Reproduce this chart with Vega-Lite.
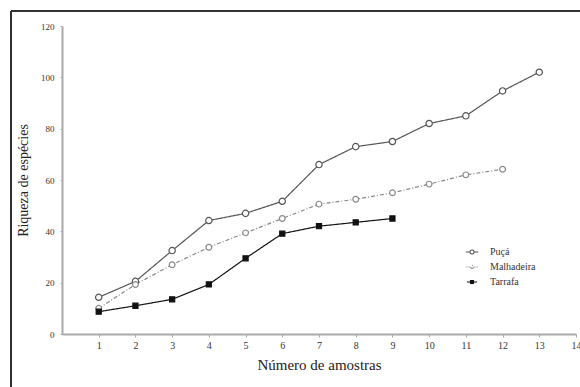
{
  "$schema": "https://vega.github.io/schema/vega-lite/v6.json",
  "width": 514,
  "height": 308,
  "autosize": {"type": "none"},
  "padding": {"left": 62, "top": 26, "right": 4, "bottom": 53},
  "background": "white",
  "config": {
    "view": {"stroke": null},
    "font": "Liberation Serif",
    "axis": {
      "labelFont": "Liberation Serif",
      "titleFont": "Liberation Serif",
      "titleFontWeight": "normal",
      "labelColor": "#333",
      "titleColor": "#222",
      "domainColor": "#aaa",
      "domainWidth": 2,
      "tickColor": "#aaa",
      "grid": false,
      "labelFlush": false,
      "labelOverlap": false
    },
    "legend": {
      "labelFont": "Liberation Serif",
      "labelColor": "#333"
    }
  },
  "data": {
    "values": [
      {"amostras": 1, "riqueza": 14.3, "serie": "Puçá"},
      {"amostras": 2, "riqueza": 20.5, "serie": "Puçá"},
      {"amostras": 3, "riqueza": 32.5, "serie": "Puçá"},
      {"amostras": 4, "riqueza": 44.2, "serie": "Puçá"},
      {"amostras": 5, "riqueza": 47, "serie": "Puçá"},
      {"amostras": 6, "riqueza": 51.7, "serie": "Puçá"},
      {"amostras": 7, "riqueza": 66, "serie": "Puçá"},
      {"amostras": 8, "riqueza": 73, "serie": "Puçá"},
      {"amostras": 9, "riqueza": 75, "serie": "Puçá"},
      {"amostras": 10, "riqueza": 82, "serie": "Puçá"},
      {"amostras": 11, "riqueza": 85, "serie": "Puçá"},
      {"amostras": 12, "riqueza": 94.7, "serie": "Puçá"},
      {"amostras": 13, "riqueza": 102, "serie": "Puçá"},
      {"amostras": 1, "riqueza": 10, "serie": "Malhadeira"},
      {"amostras": 2, "riqueza": 19.3, "serie": "Malhadeira"},
      {"amostras": 3, "riqueza": 27, "serie": "Malhadeira"},
      {"amostras": 4, "riqueza": 33.8, "serie": "Malhadeira"},
      {"amostras": 5, "riqueza": 39.4, "serie": "Malhadeira"},
      {"amostras": 6, "riqueza": 45, "serie": "Malhadeira"},
      {"amostras": 7, "riqueza": 50.6, "serie": "Malhadeira"},
      {"amostras": 8, "riqueza": 52.5, "serie": "Malhadeira"},
      {"amostras": 9, "riqueza": 55, "serie": "Malhadeira"},
      {"amostras": 10, "riqueza": 58.4, "serie": "Malhadeira"},
      {"amostras": 11, "riqueza": 62, "serie": "Malhadeira"},
      {"amostras": 12, "riqueza": 64.2, "serie": "Malhadeira"},
      {"amostras": 1, "riqueza": 8.7, "serie": "Tarrafa"},
      {"amostras": 2, "riqueza": 11, "serie": "Tarrafa"},
      {"amostras": 3, "riqueza": 13.5, "serie": "Tarrafa"},
      {"amostras": 4, "riqueza": 19.3, "serie": "Tarrafa"},
      {"amostras": 5, "riqueza": 29.5, "serie": "Tarrafa"},
      {"amostras": 6, "riqueza": 39.1, "serie": "Tarrafa"},
      {"amostras": 7, "riqueza": 42, "serie": "Tarrafa"},
      {"amostras": 8, "riqueza": 43.5, "serie": "Tarrafa"},
      {"amostras": 9, "riqueza": 45, "serie": "Tarrafa"}
    ]
  },
  "layer": [
    {
      "mark": {"type": "rule", "stroke": "#333", "strokeWidth": 1.2, "clip": false},
      "encoding": {
        "x": {"datum": -1.39, "type": "quantitative"},
        "y": {"datum": 125.8, "type": "quantitative"},
        "y2": {"datum": -20.6}
      }
    },
    {
      "mark": {"type": "rule", "stroke": "#333", "strokeWidth": 1.2, "clip": false},
      "encoding": {
        "x": {"datum": -1.39, "type": "quantitative"},
        "x2": {"datum": 14.3},
        "y": {"datum": 125.8, "type": "quantitative"}
      }
    },
    {
      "mark": {"type": "line", "strokeWidth": 1.2},
      "encoding": {
        "x": {
          "field": "amostras", "type": "quantitative",
          "scale": {"domain": [0, 14], "nice": false, "zero": false},
          "axis": {
            "values": [1,2,3,4,5,6,7,8,9,10,11,12,13,14],
            "tickCount": 30,
            "format": "d",
            "title": "Número de amostras",
            "labelFontSize": 10,
            "labelOverlap": false,
            "tickSize": 3,
            "labelPadding": 3,
            "titleFontSize": 15,
            "titlePadding": 7
          }
        },
        "y": {
          "field": "riqueza", "type": "quantitative",
          "scale": {"domain": [0, 120], "nice": false},
          "axis": {
            "values": [0, 20, 40, 60, 80, 100, 120],
            "tickCount": 10,
            "format": "d",
            "title": "Riqueza de espécies",
            "labelFontSize": 9,
            "labelOverlap": false,
            "tickSize": 2,
            "labelPadding": 6,
            "titleFontSize": 14,
            "titlePadding": 10
          }
        },
        "stroke": {
          "field": "serie", "type": "nominal",
          "scale": {"domain": ["Puçá", "Malhadeira", "Tarrafa"], "range": ["#555555", "#888888", "#111111"]},
          "legend": {
            "title": null,
            "orient": "none",
            "legendX": 405,
            "legendY": 221,
            "padding": 0,
            "symbolStrokeWidth": 1.1,
            "labelFontSize": 10,
            "labelOffset": 13,
            "rowPadding": 5
          }
        },
        "strokeDash": {
          "field": "serie", "type": "nominal",
          "scale": {"domain": ["Puçá", "Malhadeira", "Tarrafa"], "range": [[1, 0], [4, 2, 1, 2], [1, 0]]},
          "legend": null
        }
      }
    },
    {
      "transform": [{"filter": "datum.serie !== 'Tarrafa'"}],
      "mark": {"type": "point", "shape": "circle", "strokeWidth": 1.2, "opacity": 1},
      "encoding": {
        "x": {"field": "amostras", "type": "quantitative"},
        "y": {"field": "riqueza", "type": "quantitative"},
        "stroke": {"field": "serie", "type": "nominal"},
        "fill": {
          "field": "serie", "type": "nominal",
          "scale": {"domain": ["Puçá", "Malhadeira", "Tarrafa"], "range": ["#ffffff", "#ffffff", "#111111"]}
        },
        "size": {
          "field": "serie", "type": "nominal",
          "scale": {"domain": ["Puçá", "Malhadeira", "Tarrafa"], "range": [40, 26, 36]},
          "legend": null
        }
      }
    },
    {
      "transform": [{"filter": "datum.serie === 'Tarrafa'"}],
      "mark": {"type": "point", "shape": "square", "strokeWidth": 1.2, "opacity": 1},
      "encoding": {
        "x": {"field": "amostras", "type": "quantitative"},
        "y": {"field": "riqueza", "type": "quantitative"},
        "stroke": {"field": "serie", "type": "nominal"},
        "fill": {"field": "serie", "type": "nominal"},
        "size": {"field": "serie", "type": "nominal", "legend": null}
      }
    },
    {
      "transform": [{"filter": "datum.amostras > 1000"}],
      "mark": {"type": "point", "strokeWidth": 1.1, "opacity": 1},
      "encoding": {
        "x": {"field": "amostras", "type": "quantitative"},
        "y": {"field": "riqueza", "type": "quantitative"},
        "stroke": {"field": "serie", "type": "nominal"},
        "fill": {"field": "serie", "type": "nominal"},
        "shape": {
          "field": "serie", "type": "nominal",
          "scale": {
            "domain": ["Puçá", "Malhadeira", "Tarrafa"],
            "range": [
              "M-2,0H-0.64M0.64,0H2M0.64,0A0.64,0.64,0,1,1,-0.64,0A0.64,0.64,0,1,1,0.64,0Z",
              "M-2,0H-1.6M-1.2,0H-0.8M0.5,0A0.5,0.5,0,1,1,-0.5,0A0.5,0.5,0,1,1,0.5,0ZM0.8,0H1.2M1.6,0H2",
              "M-2,0H2M-0.6,-0.6H0.6V0.6H-0.6Z"
            ]
          }
        }
      }
    }
  ]
}
